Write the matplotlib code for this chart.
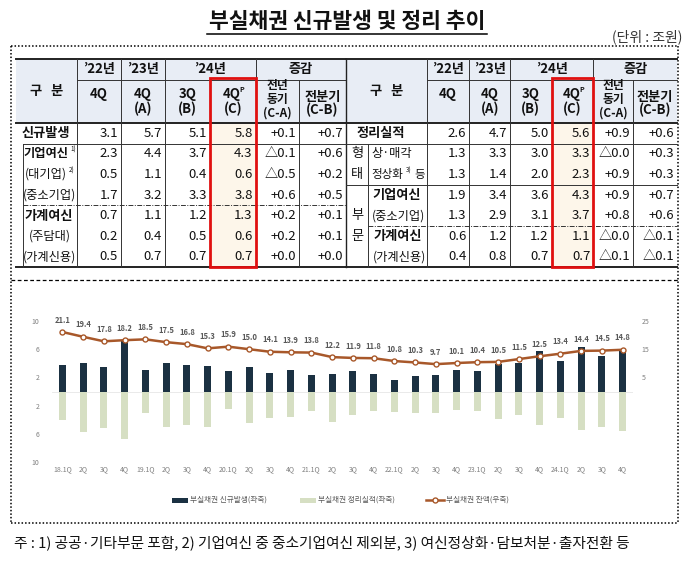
import matplotlib
matplotlib.use("Agg")
import matplotlib.pyplot as plt
from matplotlib.lines import Line2D
from matplotlib.patches import Rectangle

plt.rcParams['font.family'] = ['Noto Sans CJK KR', 'DejaVu Sans']

# ---------------- data ----------------
title = '부실채권 신규발생 및 정리 추이'
unit = '(단위 : 조원)'

col_years = ['’22년', '’23년', '’24년', '증감']
new_labels = ['신규발생', '기업여신', '(대기업)', '(중소기업)', '가계여신', '(주담대)', '(가계신용)']
new_q22 = ['3.1', '2.3', '0.5', '1.7', '0.7', '0.2', '0.5']
new_q23 = ['5.7', '4.4', '1.1', '3.2', '1.1', '0.4', '0.7']
new_q3 = ['5.1', '3.7', '0.4', '3.3', '1.2', '0.5', '0.7']
new_q4 = ['5.8', '4.3', '0.6', '3.8', '1.3', '0.6', '0.7']
new_yoy = ['+0.1', '△0.1', '△0.5', '+0.6', '+0.2', '+0.2', '+0.0']
new_qoq = ['+0.7', '+0.6', '+0.2', '+0.5', '+0.1', '+0.1', '+0.0']

res_labels = ['정리실적', '상·매각', '정상화', '기업여신', '(중소기업)', '가계여신', '(가계신용)']
res_q22 = ['2.6', '1.3', '1.3', '1.9', '1.3', '0.6', '0.4']
res_q23 = ['4.7', '3.3', '1.4', '3.4', '2.9', '1.2', '0.8']
res_q3 = ['5.0', '3.0', '2.0', '3.6', '3.1', '1.2', '0.7']
res_q4 = ['5.6', '3.3', '2.3', '4.3', '3.7', '1.1', '0.7']
res_yoy = ['+0.9', '△0.0', '+0.9', '+0.9', '+0.8', '△0.0', '△0.1']
res_qoq = ['+0.6', '+0.3', '+0.3', '+0.7', '+0.6', '△0.1', '△0.1']

quarters = ['18.1Q', '2Q', '3Q', '4Q', '19.1Q', '2Q', '3Q', '4Q',
            '20.1Q', '2Q', '3Q', '4Q', '21.1Q', '2Q', '3Q', '4Q',
            '22.1Q', '2Q', '3Q', '4Q', '23.1Q', '2Q', '3Q', '4Q',
            '24.1Q', '2Q', '3Q', '4Q']
new_npl = [3.8, 4.0, 3.5, 7.3, 3.1, 4.1, 3.8, 3.6, 2.9, 3.5, 2.6, 3.1,
           2.4, 2.5, 2.9, 2.5, 1.7, 2.2, 2.3, 3.1, 2.9, 3.9, 4.1, 5.7,
           4.3, 6.3, 5.1, 5.8]
resolved = [4.0, 5.8, 5.2, 6.8, 3.0, 5.1, 4.7, 5.1, 2.5, 4.5, 3.7, 3.6,
            2.7, 4.3, 3.3, 2.7, 2.9, 3.0, 3.1, 2.6, 2.8, 3.9, 3.4, 4.7,
            3.7, 5.4, 5.0, 5.6]
balance = [21.1, 19.4, 17.8, 18.2, 18.5, 17.5, 16.8, 15.3, 15.9, 15.0,
           14.1, 13.9, 13.8, 12.2, 11.9, 11.8, 10.8, 10.3, 9.7, 10.1,
           10.4, 10.5, 11.5, 12.5, 13.4, 14.4, 14.5, 14.8]
legend_labels = ['부실채권 신규발생(좌축)', '부실채권 정리실적(좌축)', '부실채권 잔액(우축)']
footnote = '주 : 1) 공공·기타부문 포함, 2) 기업여신 중 중소기업여신 제외분, 3) 여신정상화·담보처분·출자전환 등'

# ---------------- helpers ----------------
W, H = 700, 575
fig = plt.figure(figsize=(7, 5.75), dpi=100)


def fx(x):
    return x / W


def fy(y):
    return 1 - y / H


def hline(x0, x1, y, lw=0.7, color='#333333', ls='-'):
    fig.add_artist(Line2D([fx(x0), fx(x1)], [fy(y), fy(y)], lw=lw, color=color, ls=ls))


def vline(x, y0, y1, lw=0.7, color='#333333', ls='-'):
    fig.add_artist(Line2D([fx(x), fx(x)], [fy(y0), fy(y1)], lw=lw, color=color, ls=ls))


def box(x0, y0, x1, y1, fc='none', ec='none', lw=0, z=0):
    fig.add_artist(Rectangle((fx(x0), fy(y1)), fx(x1) - fx(x0), fy(y0) - fy(y1),
                             fc=fc, ec=ec, lw=lw, zorder=z))


def txt(x, y, s, size=9, ha='center', weight='normal', color='#111111', va='center'):
    fig.text(fx(x), fy(y), s, fontsize=size, ha=ha, va=va, fontweight=weight, color=color)


# ---------------- title ----------------
txt(347, 21, title, size=15.5, weight='bold')
hline(207, 487, 34, lw=1.1, color='black')
txt(682, 37, unit, size=10, ha='right', color='#333333')

# outer dotted box
dot = (0, (1, 1.3))
hline(11, 678, 46, lw=1.1, color='black', ls=dot)
hline(11, 678, 523, lw=1.1, color='black', ls=dot)
vline(11, 46, 523, lw=1.1, color='black', ls=dot)
vline(678, 46, 523, lw=1.1, color='black', ls=dot)
hline(11, 678, 280, lw=0.9, color='black', ls=(0, (3, 2)))

# ---------------- tables ----------------
y_top, y_mid, y_hdr = 58.5, 80, 123
rh = 20.6
rows_y = [y_hdr + rh * k for k in range(8)]
rc = [(rows_y[k] + rows_y[k + 1]) / 2 for k in range(7)]
Lc = [16, 76.7, 121, 165, 210, 255.7, 299, 346]
Rc = [346, 426.7, 469.3, 510, 551.7, 593.3, 633.3, 677]
hdr_fill = '#e8edf5'
red_fill = '#fdf6ea'
fs = 9.5


def draw_table(C, cols):
    box(C[0], y_top, C[-1], y_hdr, fc=hdr_fill)
    box(C[4], y_hdr, C[5], rows_y[-1], fc=red_fill)
    hline(C[0], C[-1], y_top, lw=1.4, color='#222222')
    hline(C[1], C[-1], y_mid, lw=0.7)
    hline(C[0], C[-1], y_hdr, lw=1.4, color='#222222')
    hline(C[0], C[-1], rows_y[-1], lw=1.4, color='#222222')
    for i in [1, 2, 3, 5]:
        vline(C[i], y_top, rows_y[-1])
    for i in [4, 6]:
        vline(C[i], y_mid, rows_y[-1])
    # header text
    txt((C[0] + C[1]) / 2, 91, '구   분', size=fs, weight='bold')
    txt((C[1] + C[2]) / 2, 69, col_years[0], size=fs, weight='bold')
    txt((C[2] + C[3]) / 2, 69, col_years[1], size=fs, weight='bold')
    txt((C[3] + C[5]) / 2, 69, col_years[2], size=fs, weight='bold')
    txt((C[5] + C[7]) / 2, 69, col_years[3], size=fs, weight='bold')
    txt((C[1] + C[2]) / 2, 94, '4Q', size=fs, weight='bold')
    txt((C[2] + C[3]) / 2, 94, '4Q', size=fs, weight='bold')
    txt((C[2] + C[3]) / 2, 109, '(A)', size=fs, weight='bold')
    txt((C[3] + C[4]) / 2, 94, '3Q', size=fs, weight='bold')
    txt((C[3] + C[4]) / 2, 109, '(B)', size=fs, weight='bold')
    txt((C[4] + C[5]) / 2 - 1, 94, '4Q', size=fs, weight='bold')
    txt((C[4] + C[5]) / 2 + 9, 89, 'P', size=5, weight='bold')
    txt((C[4] + C[5]) / 2, 109, '(C)', size=fs, weight='bold')
    txt((C[5] + C[6]) / 2, 86, '전년', size=8.5, weight='bold')
    txt((C[5] + C[6]) / 2, 99, '동기', size=8.5, weight='bold')
    txt((C[5] + C[6]) / 2, 113, '(C-A)', size=8.5, weight='bold')
    txt((C[6] + C[7]) / 2, 96.5, '전분기', size=fs, weight='bold')
    txt((C[6] + C[7]) / 2, 110, '(C-B)', size=fs, weight='bold')
    for j, col in enumerate(cols):
        for k, v in enumerate(col):
            txt(C[j + 2] - 3, rc[k], v, size=fs, ha='right')
    # red box
    box(C[4], 78.5, C[5], rows_y[-1] - 0.5, ec='#e01010', lw=2.0, z=5)


draw_table(Lc, [new_q22, new_q23, new_q3, new_q4, new_yoy, new_qoq])
draw_table(Rc, [res_q22, res_q23, res_q3, res_q4, res_yoy, res_qoq])
vline(346, y_top, rows_y[-1], lw=1.0, color='#222222')

# left table row labels / inner lines
hline(23, Lc[-1], rows_y[1], lw=0.7)
hline(23, Lc[-1], rows_y[4], lw=0.7, ls=(0, (5, 1.5, 1, 1.5)))
vline(23, rows_y[1], rows_y[-1], lw=0.7)
txt(46, rc[0], new_labels[0], size=fs, weight='bold')
txt(46, rc[1], new_labels[1], size=8.8, weight='bold')
txt(73, rc[1] - 4, '1)', size=4.5)
txt(46, rc[2], new_labels[2], size=8.8)
txt(72, rc[2] - 4, '2)', size=4.5)
txt(49, rc[3], new_labels[3], size=8.8)
txt(49, rc[4], new_labels[4], size=fs, weight='bold')
txt(50, rc[5], new_labels[5], size=8.8)
txt(49, rc[6], new_labels[6], size=8.8)

# right table row labels / inner lines
hline(Rc[0], Rc[-1], rows_y[1], lw=0.7)
hline(Rc[0], Rc[-1], rows_y[3], lw=0.7)
hline(367.7, Rc[-1], rows_y[5], lw=0.7, ls=(0, (5, 1.5, 1, 1.5)))
vline(367.7, rows_y[1], rows_y[-1], lw=0.7)
txt(381, rc[0], res_labels[0], size=fs, weight='bold')
txt(357, rc[1], '형', size=fs)
txt(357, rc[2], '태', size=fs)
txt(357, rc[4], '부', size=fs)
txt(357, rc[5], '문', size=fs)
txt(371, rc[1], res_labels[1], size=8.8, ha='left')
txt(371, rc[2], res_labels[2], size=8.3, ha='left')
txt(409, rc[2] - 4, '3)', size=4.5)
txt(425, rc[2], '등', size=8.3, ha='right')
txt(397, rc[3], res_labels[3], size=fs, weight='bold')
txt(398.5, rc[4], res_labels[4], size=8.8)
txt(398, rc[5], res_labels[5], size=fs, weight='bold')
txt(399.5, rc[6], res_labels[6], size=8.8)

# ---------------- chart ----------------
dark = '#1b3142'
light = '#d6dfc3'
brown = '#a8582a'
gray = '#7f7f7f'

ax = fig.add_axes([fx(52), fy(462), (633 - 52) / W, (462 - 321) / H])
x = list(range(len(quarters)))
ax.bar(x, new_npl, width=0.33, color=dark, zorder=2)
ax.bar(x, [-v for v in resolved], width=0.33, color=light, zorder=2)
ax.axhline(0, color='#e6e6e6', lw=0.6, zorder=1)
ax.set_xlim(-0.5, len(quarters) - 0.5)
ax.set_ylim(-10, 10)
ax.set_yticks([-10, -6, -2, 2, 6, 10])
ax.set_yticklabels(['10', '6', '2', '2', '6', '10'])
ax.set_xticks(x)
ax.set_xticklabels(quarters)
ax.tick_params(axis='y', length=0, labelsize=5, labelcolor=gray, pad=9)
ax.tick_params(axis='x', length=0, labelsize=5, labelcolor=gray, pad=2)
for s in ax.spines.values():
    s.set_visible(False)

ax2 = ax.twinx()
ax2.plot(x, balance, color=brown, lw=1.8, marker='o', ms=3.6, mfc='white',
         mec=brown, mew=1.0, zorder=3)
for xi, v in zip(x, balance):
    ax2.annotate(f'{v:.1f}', (xi, v), xytext=(0, 8.5), textcoords='offset points',
                 ha='center', va='center', fontsize=5.5, color='#595959', fontweight='bold')
ax2.set_ylim(-25, 25)
ax2.set_yticks([5, 15, 25])
ax2.tick_params(axis='y', length=0, labelsize=5, labelcolor=gray, pad=6)
for s in ax2.spines.values():
    s.set_visible(False)

# legend (manual)
ly = 500
box(172, ly - 2.5, 188, ly + 2.5, fc=dark)
txt(190, ly, legend_labels[0], size=5.5, ha='left', color='#595959')
box(300, ly - 2.5, 316, ly + 2.5, fc=light)
txt(318, ly, legend_labels[1], size=5.5, ha='left', color='#595959')
fig.add_artist(Line2D([fx(426), fx(444)], [fy(ly), fy(ly)], lw=1.8, color=brown))
fig.add_artist(Line2D([fx(435)], [fy(ly)], marker='o', ms=3.6, mfc='white', mec=brown, mew=1.0))
txt(446, ly, legend_labels[2], size=5.5, ha='left', color='#595959')

# footnote
txt(14, 543, footnote, size=10.6, ha='left', color='#111111')

fig.savefig('out.png', dpi=100)
